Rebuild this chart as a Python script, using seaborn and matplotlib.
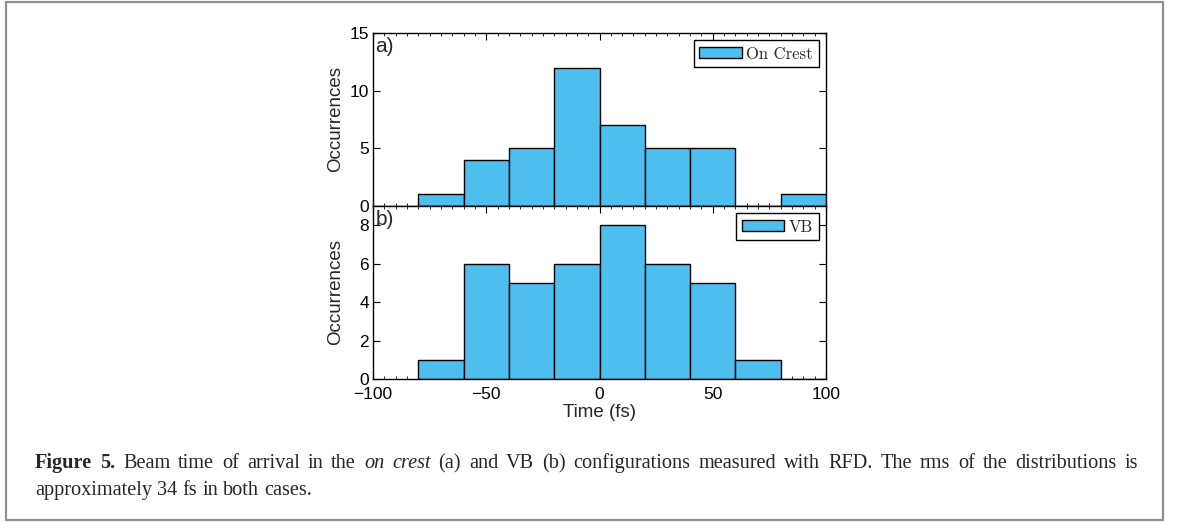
import matplotlib
matplotlib.use("Agg")
import matplotlib.pyplot as plt
from matplotlib.patches import Rectangle
from matplotlib.ticker import MultipleLocator
import seaborn as sns

# Histogram bins (fs) and counts per bin
bin_edges = [-80, -60, -40, -20, 0, 20, 40, 60, 80, 100]
on_crest_counts = [1, 4, 5, 12, 7, 5, 5, 0, 1]
vb_counts = [1, 6, 5, 6, 8, 6, 5, 1, 0]

panel_labels = ["a)", "b)"]
series_names = ["On Crest", "VB"]
y_limits = [15, 9]
y_steps = [5, 2]
x_ticks = [-100, -50, 0, 50, 100]

sns.set_theme(style="ticks")
plt.rcParams["font.family"] = ["Liberation Sans", "DejaVu Sans"]

bar_color = "#4DBEEE"
centers = [(a + b) / 2 for a, b in zip(bin_edges[:-1], bin_edges[1:])]

fig = plt.figure(figsize=(11.79, 5.22), dpi=100)
left, width, h = 0.3164, 0.3842, 0.3314
ax_top = fig.add_axes([left, 0.6054, width, h])
ax_bot = fig.add_axes([left, 0.2740, width, h])

for ax, counts, name, lab, ymax, ystep in zip(
        [ax_top, ax_bot], [on_crest_counts, vb_counts], series_names,
        panel_labels, y_limits, y_steps):
    sns.histplot(x=centers, weights=counts, bins=bin_edges, ax=ax,
                 color=bar_color, edgecolor="black", linewidth=1.0,
                 alpha=1.0, label=name)
    ax.set_xlim(-100, 100)
    ax.set_ylim(0, ymax)
    ax.yaxis.set_major_locator(MultipleLocator(ystep))
    ax.xaxis.set_major_locator(MultipleLocator(50))
    ax.xaxis.set_minor_locator(MultipleLocator(5))
    ax.tick_params(axis="both", which="major", direction="in", length=5,
                   width=0.8, top=True, right=True, labelsize=12.5,
                   colors="black", pad=3)
    ax.tick_params(axis="x", which="major", pad=6)
    ax.tick_params(axis="x", which="minor", direction="in", length=2.5,
                   width=0.7, top=True, bottom=True)
    for sp in ax.spines.values():
        sp.set_visible(True)
        sp.set_linewidth(1.0)
        sp.set_color("black")
    ax.set_ylabel("Occurrences", fontsize=13.5)
    ax.yaxis.set_label_coords(-0.064, 0.5)
    ax.text(0.005, 0.977, lab, transform=ax.transAxes, ha="left", va="top",
            fontsize=15)
    leg = ax.legend(loc="upper right", handlelength=2.55, handleheight=0.62,
                    borderaxespad=0.45, borderpad=0.35, handletextpad=0.25,
                    fancybox=False, framealpha=1, edgecolor="black",
                    prop={"family": "cmr10", "size": 12})
    leg.get_frame().set_linewidth(1.0)

ax_top.tick_params(axis="x", labelbottom=False)
ax_top.set_xlabel("")
ax_bot.set_xticks(x_ticks)
ax_bot.set_xlabel("Time (fs)", fontsize=13.5, labelpad=1)

# Outer gray frame
fig.patches.append(Rectangle((0.0047, 0.0035), 0.9815, 0.993,
                             transform=fig.transFigure, fill=False,
                             edgecolor="#8f8f8f", linewidth=1.6))

renderer = fig.canvas.get_renderer()
cap_font = dict(family="Liberation Serif", fontsize=14.6)


def words_of(runs):
    out = []
    for text, weight, style in runs:
        for w in text.split():
            out.append((w, weight, style))
    return out


def draw_line(runs, x0, y, x1=None):
    """Draw a caption line; with x1 given, spread the words to fill x0..x1."""
    words = words_of(runs)
    items = []
    for w, weight, style in words:
        t = fig.text(0, y, w, fontweight=weight, fontstyle=style,
                     ha="left", va="baseline", **cap_font)
        items.append((t, t.get_window_extent(renderer=renderer).width))
    probe2 = fig.text(0, 0, "a a", **cap_font)
    probe1 = fig.text(0, 0, "aa", **cap_font)
    sp_w = (probe2.get_window_extent(renderer=renderer).width
            - probe1.get_window_extent(renderer=renderer).width)
    probe2.remove()
    probe1.remove()
    total = sum(wd for _, wd in items)
    if x1 is not None and len(items) > 1:
        gap = (x1 - x0 - total) / (len(items) - 1)
    else:
        gap = sp_w
    x = x0
    for t, wd in items:
        t.set_x(x / fig.bbox.width)
        x += wd + gap


line1 = [("Figure 5.", "bold", "normal"),
         (" Beam time of arrival in the ", "normal", "normal"),
         ("on crest", "normal", "italic"),
         (" (a) and VB (b) configurations measured with RFD. The rms of the distributions is",
          "normal", "normal")]
line2 = [("approximately 34 fs in both cases.", "normal", "normal")]
draw_line(line1, 35, 1 - 468 / 522, x1=1138)
draw_line(line2, 35, 1 - 495 / 522)

fig.savefig("out.png", dpi=100)
